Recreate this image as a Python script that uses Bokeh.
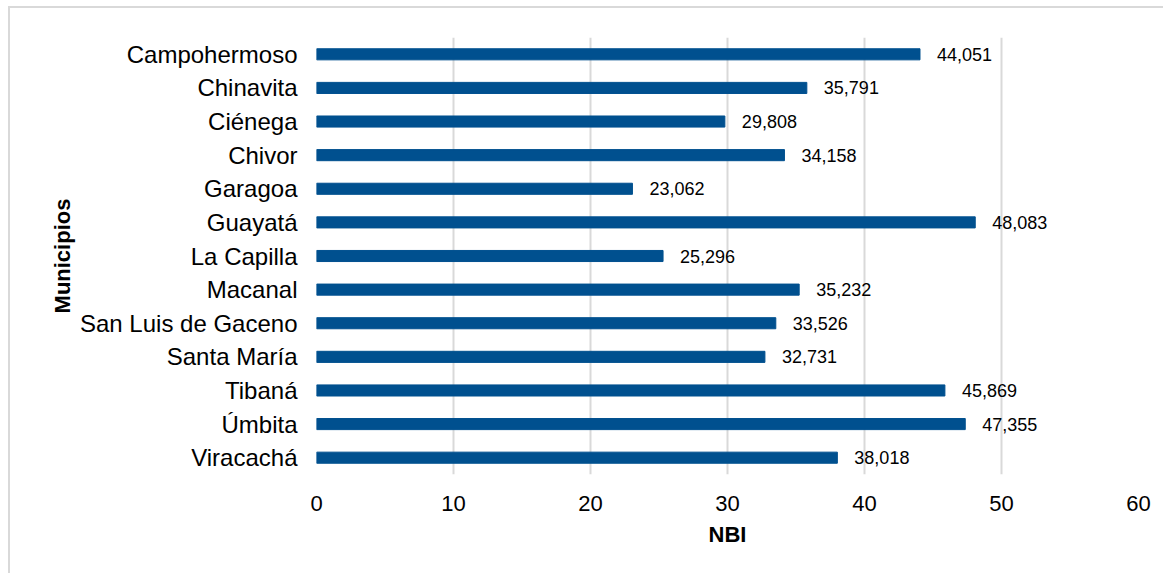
from bokeh.plotting import figure
from bokeh.models import ColumnDataSource, FactorRange, Range1d, FixedTicker
from bokeh.core.properties import value
from bokeh.embed import file_html
from bokeh.resources import INLINE

municipios = ["Campohermoso", "Chinavita", "Ciénega", "Chivor", "Garagoa", "Guayatá",
              "La Capilla", "Macanal", "San Luis de Gaceno", "Santa María", "Tibaná",
              "Úmbita", "Viracachá"]
nbi = [44.051, 35.791, 29.808, 34.158, 23.062, 48.083, 25.296, 35.232, 33.526,
       32.731, 45.869, 47.355, 38.018]
x_ticks = [0, 10, 20, 30, 40, 50, 60]

labels = [f"{v:.3f}".replace(".", ",") for v in nbi]
src = ColumnDataSource(dict(cat=municipios, val=nbi, lab=labels))

FONT = "Liberation Sans"

p = figure(width=1155, height=567, output_backend="svg", toolbar_location=None,
           y_range=FactorRange(factors=list(reversed(municipios))),
           x_range=Range1d(0, 60))
p.styles = {"border-left": "2px solid #d9d9d9", "border-top": "2px solid #d9d9d9",
            "margin-left": "8px", "margin-top": "6px"}
p.min_border_left = 306
p.min_border_top = 29
p.min_border_right = 27
p.min_border_bottom = 101
p.outline_line_color = None
p.background_fill_color = "white"
p.border_fill_color = "white"

p.hbar(y="cat", right="val", left=0, height=0.33, source=src,
       fill_color="#00508f", line_color="#00508f")
p.text(x="val", y="cat", text="lab", source=src, x_offset=17,
       text_baseline="middle", text_align="left", text_font=value(FONT),
       text_font_size="18px", text_color="#000000")

p.xaxis.ticker = FixedTicker(ticks=x_ticks)
p.xgrid.ticker = FixedTicker(ticks=x_ticks)
p.xgrid.grid_line_color = "#d9d9d9"
p.xgrid.grid_line_width = 2
p.ygrid.grid_line_color = None

for ax in (p.xaxis[0], p.yaxis[0]):
    ax.axis_line_color = None
    ax.major_tick_line_color = None
    ax.minor_tick_line_color = None
    ax.major_label_text_font = FONT
    ax.major_label_text_color = "#000000"
    ax.axis_label_text_font = FONT
    ax.axis_label_text_font_style = "bold"
    ax.axis_label_text_color = "#000000"
    ax.axis_label_text_font_size = "22px"

p.xaxis.axis_label = "NBI"
p.xaxis.major_label_text_font_size = "22px"
p.xaxis.major_label_standoff = 15
p.xaxis.axis_label_standoff = 8
p.yaxis.axis_label = "Municipios"
p.yaxis.major_label_text_font_size = "24px"
p.yaxis.major_label_standoff = 13
p.yaxis.axis_label_standoff = 2

open("out.html", "w").write(file_html(p, INLINE))
